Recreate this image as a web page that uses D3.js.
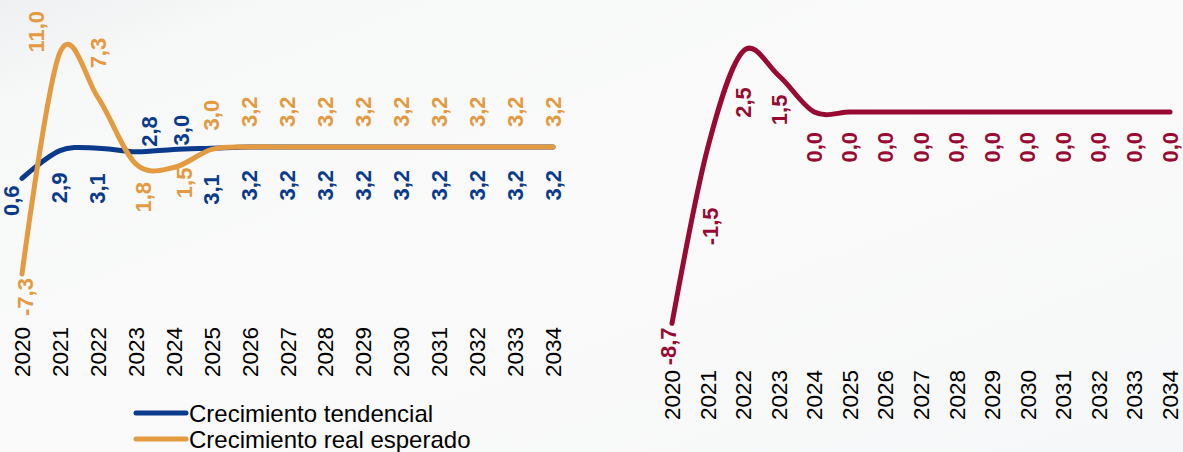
<!DOCTYPE html>
<html>
<head>
<meta charset="utf-8">
<script src="https://cdn.jsdelivr.net/npm/d3@7"></script>
<style>
  html, body { margin: 0; padding: 0; }
  body { width: 1183px; height: 452px; overflow: hidden; background: #f8f9f9; }
  svg { display: block; font-family: "Liberation Sans", Arial, sans-serif; }
</style>
</head>
<body>
<svg id="chart" width="1183" height="452"></svg>
<script>
// ---------- data ----------
const years = ["2020","2021","2022","2023","2024","2025","2026","2027","2028","2029","2030","2031","2032","2033","2034"];
const trendGrowth = [0.6, 2.9, 3.1, 2.8, 3.0, 3.1, 3.2, 3.2, 3.2, 3.2, 3.2, 3.2, 3.2, 3.2, 3.2];
const realGrowth  = [-7.3, 11.0, 7.3, 1.8, 1.5, 3.0, 3.2, 3.2, 3.2, 3.2, 3.2, 3.2, 3.2, 3.2, 3.2];
const outputGap   = [-8.7, -1.5, 2.5, 1.5, 0.0, 0.0, 0.0, 0.0, 0.0, 0.0, 0.0, 0.0, 0.0, 0.0, 0.0];
const legendLabels = ["Crecimiento tendencial", "Crecimiento real esperado"];

// label placement: [dx, dy, anchor] relative to the data point
const trendLabelPlace = [[-11,7,"end"],[0,22,"end"],[0,25,"end"],[14,-5,"start"],[8,-4,"start"],[0,26,"end"]]
  .concat(d3.range(9).map(() => [0,23,"end"]));
const realLabelPlace = [[3,4,"end"],[-23,0,"start"],[1,-29,"start"],[8,18,"end"],[11,0,"end"],[0,-19,"start"]]
  .concat(d3.range(9).map(() => [0,-20,"start"]));
const gapLabelPlace = [[-4,4,"end"],[3,59,"end"],[0,36,"end"],[1,19,"end"]]
  .concat(d3.range(11).map(() => [0,20,"end"]));

const colors = { trend: "#0a3a8c", real: "#e49a40", gap: "#990a33" };

const fmt = v => d3.format(".1f")(v).replace(".", ",").replace("−", "-");

const svg = d3.select("#chart");

// background gradient
const defs = svg.append("defs");
const grad = defs.append("linearGradient").attr("id","bg")
  .attr("x1","0").attr("y1","0").attr("x2","1").attr("y2","1");
grad.append("stop").attr("offset","0").attr("stop-color","#eef0f1");
grad.append("stop").attr("offset","0.12").attr("stop-color","#f7f8f8");
grad.append("stop").attr("offset","0.5").attr("stop-color","#fafafa");
grad.append("stop").attr("offset","1").attr("stop-color","#f6f7f8");
svg.append("rect").attr("width",1183).attr("height",452).attr("fill","url(#bg)");

const curve = d3.curveCatmullRom.alpha(0);

function drawSeries(g, x, y, values, color) {
  const line = d3.line().x((d,i) => x(years[i])).y(d => y(d)).curve(curve);
  g.append("path").datum(values)
    .attr("d", line)
    .attr("fill","none")
    .attr("stroke", color)
    .attr("stroke-width", 5)
    .attr("stroke-linecap","round")
    .attr("stroke-linejoin","round");
}

function drawLabels(g, x, y, values, color, place) {
  g.selectAll(null).data(values).enter().append("text")
    .attr("transform", (d,i) => `translate(${x(years[i]) + place[i][0]},${y(d) + place[i][1]}) rotate(-90)`)
    .attr("text-anchor", (d,i) => place[i][2])
    .attr("dominant-baseline","central")
    .attr("font-size", 22)
    .attr("font-weight","bold")
    .attr("fill", color)
    .text(d => fmt(d));
}

function drawYearAxis(g, x, yPos) {
  const axis = d3.axisBottom(x).tickSize(0).tickPadding(0);
  const ag = g.append("g").attr("transform", `translate(0,${yPos})`).call(axis);
  ag.select(".domain").remove();
  ag.selectAll("text")
    .attr("x", 0).attr("y", 0).attr("dy", null)
    .attr("dominant-baseline","central")
    .attr("transform","rotate(-90)")
    .attr("text-anchor","start")
    .attr("font-size", 22.5)
    .attr("font-family", "'Liberation Sans', Arial, sans-serif")
    .attr("fill","#000");
}

// ---------- left panel ----------
const xL = d3.scalePoint().domain(years).range([22, 553]);
const yL = d3.scaleLinear().domain([-8, 12]).range([282.5, 40.5]);
const gL = svg.append("g");
drawSeries(gL, xL, yL, trendGrowth, colors.trend);
drawSeries(gL, xL, yL, realGrowth, colors.real);
drawLabels(gL, xL, yL, trendGrowth, colors.trend, trendLabelPlace);
drawLabels(gL, xL, yL, realGrowth, colors.real, realLabelPlace);
drawYearAxis(gL, xL, 377);

// legend
const leg = svg.append("g");
[colors.trend, colors.real].forEach((c, i) => {
  const ly = 413 + i * 26;
  leg.append("line").attr("x1",136).attr("x2",186).attr("y1",ly).attr("y2",ly)
    .attr("stroke", c).attr("stroke-width",5).attr("stroke-linecap","round");
  leg.append("text").attr("x",189).attr("y",ly).attr("dominant-baseline","central")
    .attr("font-size",24).attr("fill","#000").text(legendLabels[i]);
});

// ---------- right panel ----------
const xR = d3.scalePoint().domain(years).range([672, 1170]);
const yR = d3.scaleLinear().domain([-9, 3]).range([330.7, 39.1]);
const gR = svg.append("g");
drawSeries(gR, xR, yR, outputGap, colors.gap);
drawLabels(gR, xR, yR, outputGap, colors.gap, gapLabelPlace);
drawYearAxis(gR, xR, 420);
</script>
</body>
</html>
